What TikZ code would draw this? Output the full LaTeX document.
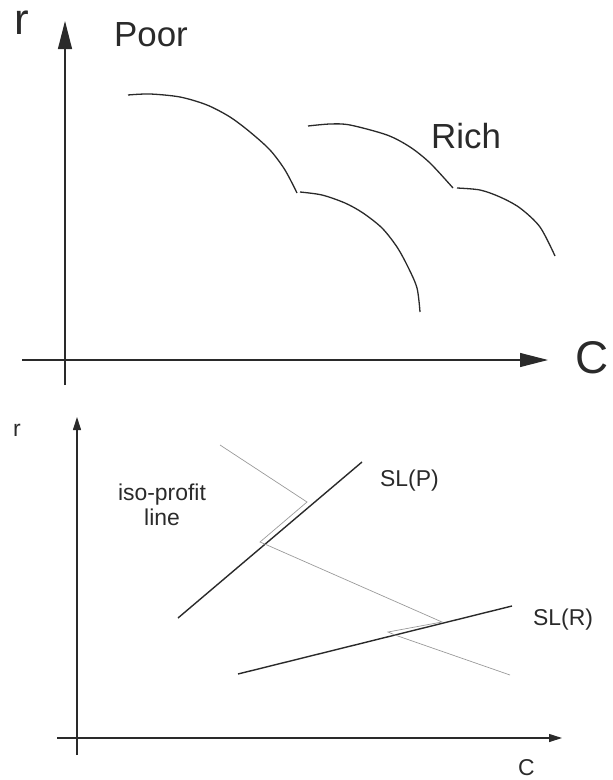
\documentclass[tikz,border=0pt]{standalone}
\usepackage{fontspec}
\setmainfont{Liberation Sans}
\usetikzlibrary{arrows.meta}
\definecolor{inkDark}{HTML}{2A2A2A}
\definecolor{inkLight}{HTML}{9A9A9A}
\tikzset{
    bigaxis/.style={-{Triangle[length=28bp, width=14bp]}, line width=1.1bp, draw=inkDark},
    smallaxis/.style={-{Triangle[length=13bp, width=8bp]}, line width=1.1bp, draw=inkDark},
    curve/.style={line width=1.3bp, draw=inkDark, line join=round},
    supply/.style={line width=1.4bp, draw=inkDark},
    isoprofit/.style={line width=0.7bp, draw=inkLight, line join=miter},
    biglabel/.style={anchor=base west, inner sep=0pt, text=inkDark},
    smalllabel/.style={anchor=base west, inner sep=0pt, text=inkDark, font=\fontsize{23}{25}\selectfont},
}
\begin{document}
\begin{tikzpicture}[x=1bp, y=-1bp]
    \useasboundingbox (0,0) rectangle (613,780);

    % Top panel
    \coordinate (rTop) at (65,21);
    \coordinate (rBot) at (65,385);
    \coordinate (cLeft) at (22,360);
    \coordinate (cRight) at (548,360);
    \draw[bigaxis] (rBot) -- (rTop);
    \draw[bigaxis] (cLeft) -- (cRight);

    \node[biglabel, font=\fontsize{44}{44}\selectfont] (rlabel) at (14,35) {r};
    \node[biglabel, font=\fontsize{35}{35}\selectfont] (poor) at (114,47) {Poor};
    \node[biglabel, font=\fontsize{35}{35}\selectfont] (rich) at (431,148) {Rich};
    \node[biglabel, font=\fontsize{46}{46}\selectfont] (clabel) at (575,373) {C};

    % Curves
    \draw[curve] plot[smooth] coordinates {(128,95) (150,94) (180,97) (207,105) (230,117) (250,132) (270,150) (285,170) (297,193)};
    \draw[curve] plot[smooth] coordinates {(300,192) (322,195) (345,203) (363,213) (382,228) (397,247) (408,267) (417,288) (420,312)};
    \draw[curve] plot[smooth] coordinates {(308,126) (330,124) (350,125) (387,135) (410,147) (430,163) (453,188)};
    \draw[curve] plot[smooth] coordinates {(457,188) (480,190) (500,197) (520,208) (540,227) (555,256)};

    % Bottom panel
    \coordinate (r2Top) at (77,417);
    \coordinate (r2Bot) at (77,755);
    \coordinate (c2Left) at (57,738);
    \coordinate (c2Right) at (562,738);
    \draw[smallaxis] (r2Bot) -- (r2Top);
    \draw[smallaxis] (c2Left) -- (c2Right);

    \node[smalllabel] (r2label) at (13,436) {r};
    \node[smalllabel] (c2label) at (518,775) {C};
    \node[smalllabel] (slp) at (380,486) {SL(P)};
    \node[smalllabel] (slr) at (533,625) {SL(R)};
    \node[smalllabel, anchor=north, align=center, inner sep=0pt] (iso) at (162,484) {iso-profit\\line};

    % Supply lines
    \coordinate (slpA) at (178,618);
    \coordinate (slpB) at (362,462);
    \coordinate (slrA) at (238,674);
    \coordinate (slrB) at (512,606);
    \draw[supply] (slpA) -- (slpB);
    \draw[supply] (slrA) -- (slrB);

    % Iso-profit line
    \draw[isoprofit] (220,445) -- (307,502) -- (260,542) -- (267,545) -- (442,622) -- (388,632) -- (395,635) -- (510,675);
\end{tikzpicture}
\end{document}
